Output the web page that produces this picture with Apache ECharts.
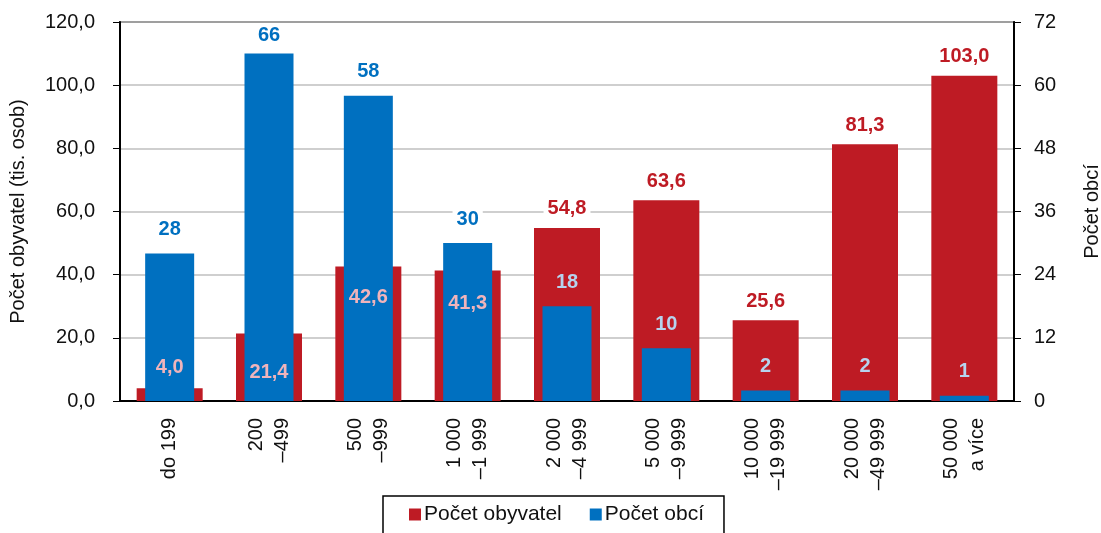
<!DOCTYPE html>
<html>
<head>
<meta charset="utf-8">
<script src="https://cdn.jsdelivr.net/npm/echarts@6/dist/echarts.min.js"></script>
<style>
  html, body { margin: 0; padding: 0; background: #fff; }
  #chart { width: 1101px; height: 533px; }
</style>
</head>
<body>
<div id="chart"></div>
<script>
var categories = ['do 199', '200\n–499', '500\n–999', '1 000\n–1 999', '2 000\n–4 999',
                  '5 000\n–9 999', '10 000\n–19 999', '20 000\n–49 999', '50 000\na více'];
var obyvatel = [4.0, 21.4, 42.6, 41.3, 54.8, 63.6, 25.6, 81.3, 103.0];   // tis. osob
var obce = [28, 66, 58, 30, 18, 10, 2, 2, 1];                            // počet obcí
var leftTicks = [0, 20, 40, 60, 80, 100, 120];
var rightTicks = [0, 12, 24, 36, 48, 60, 72];

var RED = '#be1b24';
var BLUE = '#0070c0';
var FONT = 'Liberation Sans';

var chart = echarts.init(document.getElementById('chart'));

function comma(v){
  return v.toFixed(1).replace('.', ',');
}

// popisky obyvatel - u malých sloupců jsou uvnitř (růžově)
var redLabels = obyvatel.map(function(v, i){
  if (i === 0 || i === 1) {
    return { value: v, label: { position: 'insideBottom', distance: i === 0 ? 24 : 19, color: '#f0b4bb', backgroundColor: 'transparent' } };
  }
  if (i === 2 || i === 3) {
    return { value: v, label: { position: 'insideTop', distance: i === 2 ? 21 : 23, color: '#f0b4bb', backgroundColor: 'transparent' } };
  }
  return v;
});

// modré popisky - nad sloupcem modře, přes červený sloupec světle
var blueData = obce.map(function(v, i){
  if (i < 4) {
    return { value: v, label: { color: BLUE, backgroundColor: '#fff', distance: i === 1 ? 8 : 14 } };
  }
  return v;
});

var option = {
  animation: false,
  textStyle: { fontFamily: FONT },
  grid: {
    left: 120, right: 87, top: 22, bottom: 132,
    outerBoundsMode: 'none',
    show: true, borderColor: '#000', borderWidth: 1.5, backgroundColor: 'transparent'
  },
  legend: {
    data: ['Počet obyvatel', 'Počet obcí'],
    left: 383, top: 496,
    padding: [8, 20, 12, 26],
    itemGap: 28,
    itemWidth: 12, itemHeight: 12,
    icon: 'rect',
    borderColor: '#000', borderWidth: 1.5,
    textStyle: { fontSize: 21, color: '#111', fontFamily: FONT, padding: [0, 0, 0, -2] }
  },
  xAxis: [
    {
      type: 'category', data: categories,
      axisLine: { lineStyle: { color: '#000', width: 2 } },
      axisTick: { length: 8, lineStyle: { color: '#000', width: 1.2 } },
      axisLabel: { rotate: 90, margin: 17, fontSize: 20, lineHeight: 26, color: '#111', fontFamily: FONT, interval: 0 }
    },
    { type: 'category', data: categories, show: false },
    { type: 'category', data: categories, show: false }
  ],
  yAxis: [
    {
      type: 'value', min: 0, max: 120, interval: 20,
      name: 'Počet obyvatel (tis. osob)', nameLocation: 'middle', nameGap: 92, nameRotate: 90,
      nameTextStyle: { fontSize: 20, color: '#111', fontFamily: FONT },
      axisLine: { show: true, lineStyle: { color: '#000', width: 2 } },
      axisTick: { show: true, length: 7, lineStyle: { color: '#000' } },
      axisLabel: { fontSize: 20, color: '#111', margin: 25, formatter: function(v){ return comma(v); } },
      splitLine: { lineStyle: { color: '#bfbfbf', width: 1.5 } }
    },
    {
      type: 'value', min: 0, max: 72, interval: 12, position: 'right',
      name: 'Počet obcí', nameLocation: 'middle', nameGap: 68, nameRotate: 90,
      nameTextStyle: { fontSize: 20, color: '#111', fontFamily: FONT },
      axisLine: { show: true, lineStyle: { color: '#000', width: 2 } },
      axisTick: { show: true, length: 7, lineStyle: { color: '#000' } },
      axisLabel: { fontSize: 20, color: '#111', margin: 20 },
      splitLine: { show: false }
    }
  ],
  series: [
    {
      name: 'Počet obyvatel', type: 'bar', xAxisIndex: 0, yAxisIndex: 0,
      data: obyvatel, barWidth: 66, z: 2,
      itemStyle: { color: RED }
    },
    {
      name: 'Počet obcí', type: 'bar', xAxisIndex: 1, yAxisIndex: 1,
      data: blueData, barWidth: 49, z: 3,
      itemStyle: { color: BLUE },
      label: {
        show: true, position: 'top', distance: 14,
        fontSize: 20, fontWeight: 'bold', fontFamily: FONT, color: '#b6d3ee',
        backgroundColor: 'transparent', padding: [0, 4]
      }
    },
    {
      // jen popisky obyvatel, aby byly nad modrými sloupci
      name: 'popisky', type: 'bar', xAxisIndex: 2, yAxisIndex: 0,
      data: redLabels, barWidth: 66, z: 4,
      itemStyle: { color: 'transparent' },
      label: {
        show: true, position: 'top', distance: 9,
        fontSize: 20, fontWeight: 'bold', fontFamily: FONT, color: RED,
        backgroundColor: '#fff', padding: [0, 4],
        formatter: function(p){ return comma(p.value); }
      },
      silent: true
    }
  ]
};

chart.setOption(option);
</script>
</body>
</html>
